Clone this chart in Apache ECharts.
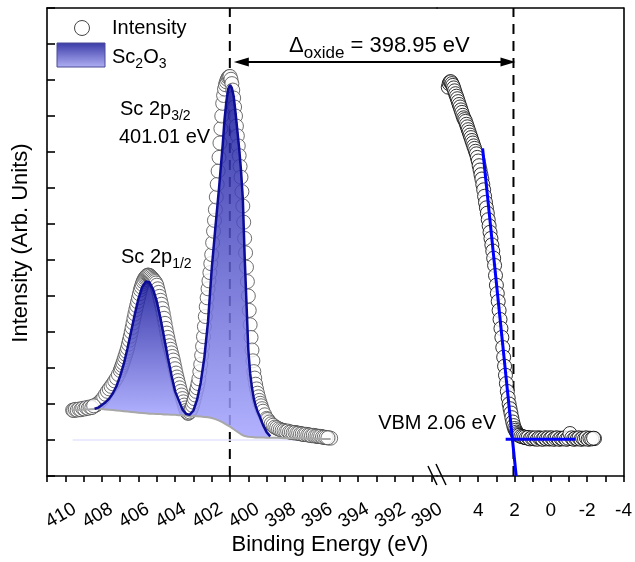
<!DOCTYPE html>
<html>
<head>
<meta charset="utf-8">
<script src="https://cdn.jsdelivr.net/npm/echarts/dist/echarts.min.js"></script>
<style>
  html, body { margin: 0; padding: 0; background: #fff; }
  #chart { width: 635px; height: 562px; }
</style>
</head>
<body>
<div id="chart"></div>
<script>
// Sc 2p core level, [binding energy, intensity] (left part of the broken axis)
const scData = [
  [409.6, 1.83], [409.5, 1.83], [409.4, 1.84], [409.3, 1.85], [409.2, 1.85], [409.1, 1.86], [409.0, 1.87],
  [408.9, 1.88], [408.8, 1.89], [408.7, 1.9], [408.6, 1.91], [408.5, 1.93], [408.4, 1.95], [408.3, 1.98],
  [408.2, 2.02], [408.1, 2.07], [408.0, 2.12], [407.9, 2.19], [407.8, 2.27], [407.7, 2.35], [407.6, 2.42],
  [407.5, 2.49], [407.4, 2.56], [407.3, 2.64], [407.2, 2.72], [407.1, 2.82], [407.0, 2.93], [406.95, 3.0],
  [406.9, 3.07], [406.85, 3.14], [406.8, 3.22], [406.75, 3.3], [406.7, 3.38], [406.65, 3.46], [406.6, 3.55],
  [406.55, 3.66], [406.5, 3.77], [406.45, 3.88], [406.4, 4.0], [406.35, 4.12], [406.3, 4.25], [406.25, 4.38],
  [406.2, 4.5], [406.15, 4.62], [406.1, 4.73], [406.05, 4.84], [406.0, 4.95], [405.95, 5.06], [405.9, 5.17],
  [405.85, 5.25], [405.8, 5.33], [405.75, 5.4], [405.7, 5.45], [405.65, 5.5], [405.6, 5.53], [405.55, 5.56],
  [405.5, 5.58], [405.45, 5.58], [405.4, 5.57], [405.35, 5.55], [405.3, 5.52], [405.25, 5.49], [405.2, 5.46],
  [405.15, 5.43], [405.1, 5.4], [405.05, 5.36], [405.0, 5.3], [404.95, 5.2], [404.9, 5.1], [404.85, 4.99],
  [404.8, 4.88], [404.75, 4.77], [404.7, 4.65], [404.65, 4.52], [404.6, 4.38], [404.55, 4.24], [404.5, 4.1],
  [404.45, 3.97], [404.4, 3.85], [404.35, 3.73], [404.3, 3.62], [404.25, 3.52], [404.2, 3.42], [404.15, 3.32],
  [404.1, 3.22], [404.05, 3.1], [404.0, 2.98], [403.95, 2.86], [403.9, 2.75], [403.85, 2.65], [403.8, 2.55],
  [403.75, 2.45], [403.7, 2.35], [403.65, 2.25], [403.6, 2.15], [403.55, 2.06], [403.5, 1.97], [403.45, 1.89],
  [403.4, 1.82], [403.35, 1.77], [403.3, 1.74], [403.25, 1.75], [403.2, 1.78], [403.15, 1.83], [403.1, 1.88],
  [403.05, 1.96], [403.0, 2.05], [402.95, 2.15], [402.9, 2.25], [402.85, 2.35], [402.8, 2.45], [402.75, 2.57],
  [402.7, 2.7], [402.65, 2.9], [402.6, 3.1], [402.55, 3.35], [402.5, 3.6], [402.45, 3.87], [402.4, 4.15],
  [402.35, 4.43], [402.3, 4.7], [402.25, 4.95], [402.2, 5.2], [402.15, 5.42], [402.1, 5.65], [402.05, 5.9],
  [402.0, 6.15], [401.95, 6.48], [401.9, 6.8], [401.85, 7.1], [401.8, 7.4], [401.75, 7.75], [401.7, 8.1],
  [401.65, 8.47], [401.6, 8.85], [401.55, 9.25], [401.5, 9.65], [401.45, 10.0], [401.4, 10.35], [401.35, 10.57],
  [401.3, 10.75], [401.25, 10.87], [401.2, 10.95], [401.15, 11.02], [401.1, 11.07], [401.05, 11.09], [401.0, 11.1],
  [400.95, 11.02], [400.9, 10.9], [400.85, 10.72], [400.8, 10.5], [400.75, 10.25], [400.7, 10.0], [400.65, 9.72],
  [400.6, 9.45], [400.55, 9.17], [400.5, 8.9], [400.45, 8.6], [400.4, 8.3], [400.35, 7.9], [400.3, 7.5],
  [400.25, 7.05], [400.2, 6.6], [400.15, 6.2], [400.1, 5.8], [400.05, 5.4], [400.0, 5.0], [399.95, 4.6],
  [399.9, 4.2], [399.85, 3.85], [399.8, 3.5], [399.75, 3.2], [399.7, 2.9], [399.65, 2.72], [399.6, 2.55],
  [399.55, 2.42], [399.5, 2.3], [399.45, 2.2], [399.4, 2.1], [399.35, 2.02], [399.3, 1.95], [399.25, 1.87],
  [399.2, 1.8], [399.1, 1.7], [399.0, 1.6], [398.9, 1.53], [398.8, 1.47], [398.7, 1.42], [398.6, 1.38],
  [398.5, 1.35], [398.4, 1.32], [398.3, 1.3], [398.2, 1.28], [398.1, 1.26], [398.0, 1.25], [397.9, 1.24],
  [397.8, 1.23], [397.7, 1.22], [397.6, 1.21], [397.5, 1.2], [397.4, 1.2], [397.3, 1.19], [397.2, 1.18],
  [397.1, 1.17], [397.0, 1.16], [396.9, 1.15], [396.8, 1.15], [396.7, 1.14], [396.6, 1.13], [396.5, 1.12],
  [396.4, 1.12], [396.3, 1.11], [396.2, 1.1], [396.1, 1.1], [396.0, 1.09], [395.9, 1.08], [395.8, 1.07],
  [395.7, 1.06], [395.6, 1.06], [395.5, 1.05]
]
// extra noisy points in the flat parts of the Sc 2p scan
const scFlat = [
  [409.55, 1.82], [409.45, 1.85], [409.35, 1.83], [409.25, 1.86], [409.15, 1.84], [409.05, 1.88],
  [408.95, 1.86], [408.85, 1.9], [408.75, 1.88], [408.65, 1.92], [408.55, 1.9], [408.45, 1.95],
  [398.95, 1.57], [398.85, 1.5], [398.75, 1.45], [398.65, 1.41], [398.55, 1.36], [398.45, 1.34],
  [398.35, 1.31], [398.25, 1.29], [398.15, 1.27], [398.05, 1.26], [397.95, 1.24], [397.85, 1.25],
  [397.75, 1.22], [397.65, 1.22], [397.55, 1.2], [397.45, 1.21], [397.35, 1.19], [397.25, 1.19],
  [397.15, 1.17], [397.05, 1.17], [396.95, 1.15], [396.85, 1.16], [396.75, 1.14], [396.65, 1.14],
  [396.55, 1.12], [396.45, 1.13], [396.35, 1.11], [396.25, 1.11], [396.15, 1.1], [396.05, 1.1],
  [395.95, 1.08], [395.85, 1.08], [395.75, 1.07], [395.65, 1.06]
]

// Sc2O3 fit envelope and background, same energy grid
const fitE = [409.6, 409.2, 408.8, 408.4, 408.2, 408.0, 407.8, 407.6, 407.4, 407.2, 407.0, 406.8, 406.6, 406.4,
  406.2, 406.0, 405.8, 405.6, 405.5, 405.4, 405.2, 405.0, 404.8, 404.6, 404.4, 404.2, 404.0, 403.8, 403.6,
  403.4, 403.2, 403.0, 402.8, 402.6, 402.4, 402.2, 402.0, 401.8, 401.6, 401.4, 401.3, 401.2, 401.1, 401.0,
  400.9, 400.8, 400.7, 400.6, 400.5, 400.4, 400.3, 400.2, 400.1, 400.0, 399.9, 399.8, 399.7, 399.6, 399.5,
  399.4, 399.2, 399.0, 398.8, 398.4, 398.0, 397.5, 397.0, 396.5, 396.0, 395.5]
const fitY = [1.83, 1.84, 1.85, 1.87, 1.9, 1.97, 2.05, 2.15, 2.3, 2.5, 2.78, 3.12, 3.55, 4.02,
  4.5, 4.93, 5.25, 5.4, 5.42, 5.38, 5.18, 4.85, 4.38, 3.85, 3.3, 2.8, 2.35, 2.1, 1.85,
  1.72, 1.7, 1.82, 2.12, 2.6, 3.3, 4.3, 5.75, 6.9, 8.0, 9.2, 9.9, 10.4, 10.75, 10.86,
  10.78, 10.55, 10.1, 9.6, 9.1, 8.5, 7.7, 6.1, 4.8, 3.5, 2.85, 2.45, 2.15, 1.95, 1.8,
  1.68, 1.42, 1.22, 1.1, 1.07, 1.05, 1.05, 1.04, 1.04, 1.03, 1.03]
const bgY = [1.83, 1.84, 1.85, 1.86, 1.86, 1.86, 1.85, 1.84, 1.83, 1.82, 1.81, 1.8, 1.79, 1.78,
  1.77, 1.76, 1.75, 1.74, 1.74, 1.73, 1.73, 1.72, 1.72, 1.71, 1.71, 1.7, 1.7, 1.69, 1.69,
  1.68, 1.67, 1.67, 1.66, 1.65, 1.64, 1.63, 1.61, 1.58, 1.54, 1.49, 1.46, 1.43, 1.4, 1.37,
  1.33, 1.3, 1.26, 1.23, 1.19, 1.16, 1.13, 1.11, 1.1, 1.09, 1.08, 1.08, 1.08, 1.07, 1.07,
  1.07, 1.07, 1.06, 1.06, 1.06, 1.05, 1.05, 1.04, 1.04, 1.03, 1.03]
const fitRange = [408.4, 398.8]
const peakRanges = [[408.4, 403.2], [403.2, 398.8]]
const floorLine = [[409.6, 1.0], [395.5, 1.0]]

// valence band, [binding energy, intensity] (right part of the broken axis)
const vbData = [
  [5.65, 10.8], [5.6, 10.9], [5.55, 10.95], [5.5, 10.95], [5.45, 10.9], [5.4, 10.85], [5.35, 10.78],
  [5.3, 10.7], [5.25, 10.62], [5.2, 10.55], [5.15, 10.48], [5.1, 10.4], [5.05, 10.32], [5.0, 10.25],
  [4.95, 10.17], [4.9, 10.1], [4.85, 10.02], [4.8, 9.95], [4.75, 9.9], [4.7, 9.85], [4.65, 9.77],
  [4.6, 9.7], [4.55, 9.62], [4.5, 9.55], [4.45, 9.47], [4.4, 9.4], [4.35, 9.32], [4.3, 9.25],
  [4.25, 9.17], [4.2, 9.1], [4.15, 9.02], [4.1, 8.95], [4.05, 8.85], [4.0, 8.75], [3.95, 8.62],
  [3.9, 8.5], [3.85, 8.37], [3.8, 8.25], [3.75, 8.1], [3.7, 7.95], [3.65, 7.77], [3.6, 7.6],
  [3.55, 7.45], [3.5, 7.3], [3.45, 7.12], [3.4, 6.95], [3.35, 6.77], [3.3, 6.6], [3.25, 6.42],
  [3.2, 6.25], [3.15, 6.05], [3.1, 5.85], [3.05, 5.57], [3.0, 5.3], [2.95, 5.07], [2.9, 4.85],
  [2.85, 4.6], [2.8, 4.35], [2.75, 4.1], [2.7, 3.85], [2.65, 3.57], [2.6, 3.3], [2.55, 3.05],
  [2.5, 2.8], [2.45, 2.57], [2.4, 2.35], [2.35, 2.17], [2.3, 2.0], [2.25, 1.87], [2.2, 1.75],
  [2.15, 1.62], [2.1, 1.5], [2.05, 1.4], [2.0, 1.32], [1.95, 1.27], [1.9, 1.22], [1.85, 1.18],
  [1.8, 1.15], [1.7, 1.12], [1.6, 1.1], [1.5, 1.08], [1.4, 1.07], [1.3, 1.06], [1.2, 1.05],
  [1.1, 1.04], [1.0, 1.05], [0.9, 1.03], [0.8, 1.04], [0.7, 1.05], [0.6, 1.04], [0.5, 1.03],
  [0.4, 1.04], [0.3, 1.05], [0.2, 1.04], [0.1, 1.03], [0.0, 1.05], [-0.1, 1.04], [-0.2, 1.03],
  [-0.3, 1.05], [-0.4, 1.04], [-0.5, 1.03], [-0.6, 1.04], [-0.7, 1.05], [-0.8, 1.04], [-0.9, 1.03],
  [-1.0, 1.04], [-1.1, 1.05], [-1.2, 1.04], [-1.3, 1.03], [-1.4, 1.04], [-1.5, 1.05], [-1.6, 1.04],
  [-1.7, 1.03], [-1.8, 1.04], [-1.9, 1.05], [-2.0, 1.04], [-2.1, 1.03], [-2.2, 1.04], [-2.3, 1.04],
  [-2.4, 1.04]
]
// extra noisy points in the flat part above the VBM
const vbFlat = [
  [1.75, 1.13], [1.65, 1.1], [1.55, 1.09], [1.45, 1.08], [1.35, 1.06], [1.25, 1.07], [1.15, 1.03],
  [1.05, 1.06], [0.95, 1.04], [0.85, 1.06], [0.75, 1.02], [0.65, 1.06], [0.55, 1.05], [0.45, 1.02],
  [0.35, 1.06], [0.25, 1.03], [0.15, 1.06], [0.05, 1.03], [-0.05, 1.06], [-0.15, 1.02], [-0.25, 1.05],
  [-0.35, 1.06], [-0.45, 1.02], [-0.55, 1.05], [-0.65, 1.03], [-0.75, 1.06], [-0.85, 1.02], [-0.95, 1.05],
  [-1.05, 1.18], [-1.15, 1.06], [-1.25, 1.02], [-1.35, 1.05], [-1.45, 1.03], [-1.55, 1.06], [-1.65, 1.02],
  [-1.75, 1.05], [-1.85, 1.03], [-1.95, 1.06], [-2.05, 1.02], [-2.15, 1.05], [-2.25, 1.03], [-2.35, 1.05]
]
const vbmSteep = [[3.76, 9.1], [1.91, 0]]
const vbmFlat = [[2.49, 1.02], [-1.36, 1.02]]

const sc2p32 = 401.01
const vbm = 2.06
const arrowLevel = 11.5

const leftTicks = [390, 391, 392, 393, 394, 395, 396, 397, 398, 399, 400, 401, 402, 403, 404, 405, 406, 407, 408, 409, 410, 411]
const leftLabels = [390, 392, 394, 396, 398, 400, 402, 404, 406, 408, 410]
const rightTicks = [-4, -3, -2, -1, 0, 1, 2, 3, 4, 5]
const rightLabels = [-4, -2, 0, 2, 4]

const FONT = 'Liberation Sans, Arial, sans-serif'

function zip(xs, ys, from, to) {
  const out = []
  xs.forEach((x, i) => {
    if (x <= from && x >= to) out.push([x, ys[i]])
  })
  return out
}

function fillPeak(params, api) {
  const from = api.value(0)
  const to = api.value(1)
  const top = []
  const bottom = []
  fitE.forEach((x, i) => {
    if (x <= from && x >= to) {
      top.push(api.coord([x, fitY[i]]))
      bottom.unshift(api.coord([x, bgY[i]]))
    }
  })
  return {
    type: 'polygon',
    shape: { points: top.concat(bottom) },
    style: {
      fill: new echarts.graphic.LinearGradient(0, 0, 0, 1, [
        { offset: 0, color: '#14149a' },
        { offset: 1, color: '#a4a4ff' }
      ]),
      opacity: 0.85
    }
  }
}

const chart = echarts.init(document.getElementById('chart'), null, { renderer: 'canvas' })

const axisLine = { show: true, onZero: false, lineStyle: { color: '#000', width: 1.6 } }
const plainX = (grid, min, max) => ({
  gridIndex: grid, type: 'value', position: 'top', min: min, max: max, inverse: true,
  axisLine: axisLine, axisTick: { show: false }, axisLabel: { show: false }, splitLine: { show: false }
})
const leftMin = 389.69
const rightMax = 6.27

chart.setOption({
  animation: false,
  grid: [
    { left: 47, top: 8, width: 390, height: 468 },
    { left: 437, top: 8, width: 188, height: 468 }
  ],
  xAxis: [
    {
      gridIndex: 0, type: 'value', min: leftMin, max: 411, inverse: true,
      axisLine: axisLine,
      axisTick: { customValues: leftTicks, length: 6, lineStyle: { color: '#000', width: 1.6 } },
      axisLabel: {
        customValues: leftLabels, rotate: 30, align: 'center', verticalAlign: 'middle', margin: 37,
        padding: [0, 10, 0, 0], fontSize: 19, fontFamily: FONT, color: '#000'
      },
      splitLine: { show: false }
    },
    {
      gridIndex: 1, type: 'value', min: -4, max: rightMax, inverse: true,
      axisLine: axisLine,
      axisTick: { customValues: rightTicks, length: 6, lineStyle: { color: '#000', width: 1.6 } },
      axisLabel: {
        customValues: rightLabels, align: 'center', verticalAlign: 'middle', margin: 35,
        fontSize: 19, fontFamily: FONT, color: '#000'
      },
      splitLine: { show: false }
    },
    plainX(0, leftMin, 411),
    plainX(1, -4, rightMax)
  ],
  yAxis: [
    {
      gridIndex: 0, type: 'value', min: 0, max: 13, interval: 1,
      axisLine: axisLine,
      axisTick: { inside: true, length: 8, lineStyle: { color: '#000', width: 1.6 } },
      axisLabel: { show: false },
      splitLine: { show: false }
    },
    {
      gridIndex: 1, type: 'value', position: 'right', min: 0, max: 13,
      axisLine: axisLine, axisTick: { show: false }, axisLabel: { show: false },
      splitLine: { show: false }
    }
  ],
  series: [
    {
      type: 'line', xAxisIndex: 0, yAxisIndex: 0, z: 1, symbol: 'none',
      data: [[sc2p32, 0], [sc2p32, 13]],
      lineStyle: { color: '#000', width: 2, type: [10, 7] }
    },
    {
      type: 'line', xAxisIndex: 1, yAxisIndex: 1, z: 1, symbol: 'none',
      data: [[vbm, 0], [vbm, 13]],
      lineStyle: { color: '#000', width: 2, type: [10, 7] }
    },
    {
      type: 'line', xAxisIndex: 0, yAxisIndex: 0, z: 1, symbol: 'none',
      data: floorLine, lineStyle: { color: '#e4e4ff', width: 1.5 }
    },
    {
      name: 'Intensity', type: 'scatter', xAxisIndex: 0, yAxisIndex: 0, z: 2,
      data: scData.concat(scFlat),
      symbol: 'circle', symbolSize: 14,
      itemStyle: { color: '#fff', borderColor: '#4a4a4a', borderWidth: 1 }
    },
    {
      name: 'Sc2O3', type: 'custom', xAxisIndex: 0, yAxisIndex: 0, z: 3,
      renderItem: fillPeak,
      encode: { x: [0, 1], y: 2 },
      data: peakRanges.map(r => [r[0], r[1], 1])
    },
    {
      type: 'line', xAxisIndex: 0, yAxisIndex: 0, z: 4, symbol: 'none',
      data: zip(fitE, bgY, 409.6, 395.5),
      lineStyle: { color: '#a8a8a8', width: 2 }
    },
    {
      type: 'line', xAxisIndex: 0, yAxisIndex: 0, z: 5, symbol: 'none',
      data: zip(fitE, fitY, fitRange[0], fitRange[1]),
      lineStyle: { color: '#0c0c96', width: 2.5 }
    },
    {
      type: 'scatter', xAxisIndex: 1, yAxisIndex: 1, z: 2,
      data: vbData.concat(vbFlat),
      symbol: 'circle', symbolSize: 14,
      itemStyle: { color: '#fff', borderColor: '#000', borderWidth: 1 }
    },
    {
      type: 'line', xAxisIndex: 1, yAxisIndex: 1, z: 5, symbol: 'none',
      data: vbmSteep, lineStyle: { color: '#0000ff', width: 3 }
    },
    {
      type: 'line', xAxisIndex: 1, yAxisIndex: 1, z: 5, symbol: 'none',
      data: vbmFlat, lineStyle: { color: '#0000ff', width: 3 }
    }
  ]
})

// annotations placed through the axes
const pa = chart.convertToPixel({ gridIndex: 0 }, [sc2p32, arrowLevel])
const pb = chart.convertToPixel({ gridIndex: 1 }, [vbm, arrowLevel])
const ax = pa[0] + 4
const bx = pb[0] + 2
const ay = pa[1]

const rich = {
  n: { fontSize: 20, fontFamily: FONT, fill: '#000', verticalAlign: 'top', lineHeight: 22 },
  s: { fontSize: 14, fontFamily: FONT, fill: '#000', verticalAlign: 'top', lineHeight: 14, padding: [10, 0, 0, 0] },
  N: { fontSize: 22, fontFamily: FONT, fill: '#000', verticalAlign: 'top', lineHeight: 24 },
  S: { fontSize: 17, fontFamily: FONT, fill: '#000', verticalAlign: 'top', lineHeight: 17, padding: [10, 0, 0, 0] }
}
const txt = (x, y, text, extra) => ({
  type: 'text', z: 100,
  style: Object.assign({
    x: x, y: y, text: text, font: '20px ' + FONT, fill: '#000',
    align: 'left', verticalAlign: 'middle', rich: rich
  }, extra || {})
})

chart.setOption({
  graphic: [
    { type: 'line', z: 100, shape: { x1: ax + 12, y1: ay, x2: bx - 12, y2: ay }, style: { stroke: '#000', lineWidth: 2 } },
    { type: 'polygon', z: 100, shape: { points: [[ax, ay], [ax + 15, ay - 4.5], [ax + 15, ay + 4.5]] }, style: { fill: '#000' } },
    { type: 'polygon', z: 100, shape: { points: [[bx, ay], [bx - 15, ay - 4.5], [bx - 15, ay + 4.5]] }, style: { fill: '#000' } },
    txt(289, 47, '{N|Δ}{S|oxide}{N| = 398.95 eV}'),
    txt(120, 110, '{n|Sc 2p}{s|3/2}'),
    txt(119, 137, '401.01 eV'),
    txt(121, 258, '{n|Sc 2p}{s|1/2}'),
    txt(496, 423, 'VBM 2.06 eV', { align: 'right' }),
    // legend
    { type: 'circle', z: 100, shape: { cx: 82, cy: 28, r: 7.5 }, style: { fill: '#fff', stroke: '#444', lineWidth: 1 } },
    txt(112, 28, 'Intensity'),
    {
      type: 'rect', z: 100, shape: { x: 57, y: 43, width: 48, height: 24 },
      style: {
        fill: new echarts.graphic.LinearGradient(0, 0, 0, 1, [
          { offset: 0, color: '#3a3aa8' },
          { offset: 1, color: '#b0b0f4' }
        ]),
        stroke: '#4a4a96', lineWidth: 1
      }
    },
    txt(112, 58, '{n|Sc}{s|2}{n|O}{s|3}'),
    // axis break marks
    { type: 'line', z: 100, shape: { x1: 428, y1: 466, x2: 437, y2: 485 }, style: { stroke: '#000', lineWidth: 1.5 } },
    { type: 'line', z: 100, shape: { x1: 436, y1: 464, x2: 446, y2: 485 }, style: { stroke: '#000', lineWidth: 1.5 } },
    // axis titles
    txt(330, 545, 'Binding Energy (eV)', { font: '22px ' + FONT, align: 'center' }),
    {
      type: 'text', z: 100, x: 21, y: 243, rotation: Math.PI / 2,
      style: { text: 'Intensity (Arb. Units)', font: '22px ' + FONT, fill: '#000', align: 'center', verticalAlign: 'middle' }
    }
  ]
})
</script>
</body>
</html>
